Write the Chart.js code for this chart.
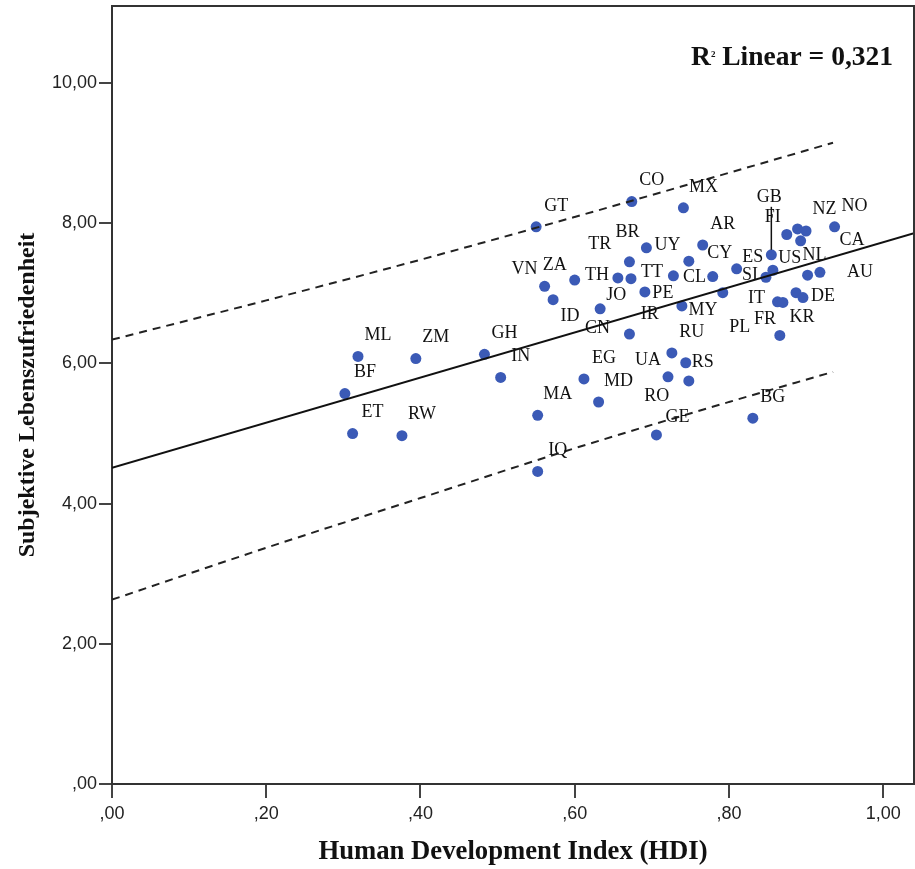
<!DOCTYPE html>
<html>
<head>
<meta charset="utf-8">
<script src="https://cdn.jsdelivr.net/npm/chart.js@4.4.1/dist/chart.umd.min.js"></script>
<style>
    html, body { margin: 0; padding: 0; background: #ffffff; }
    #wrap { width: 915px; height: 869px; }
</style>
</head>
<body>
<div id="wrap"><canvas id="hdiChart" width="915" height="869"></canvas></div>
<script>
// Länder (null = Punkt ohne Beschriftung)
const countries = [
    "BF", "ML", "ZM", "ET", "RW", "GH", "IN", "MA", "IQ", "EG", "MD",
    "GT", "VN", "ID", "ZA", "JO", "CN", "PE", "MY", "IR", "RU", "RS",
    "UA", "RO", "GE", "BG", "CO", "MX", "UY", "BR", "AR", "CY", "TR",
    "TH", "TT", "CL", "ES", "GB", "FI", "NZ", "CA", null, "NO", "US",
    "SI", "NL", "AU", "IT", "FR", "DE", "KR", "PL"
];
const hdi = [
    0.302, 0.319, 0.394, 0.312, 0.376, 0.483, 0.504, 0.552, 0.552, 0.612, 0.631,
    0.550, 0.561, 0.572, 0.600, 0.633, 0.671, 0.691, 0.739, 0.792, 0.726, 0.744,
    0.721, 0.748, 0.706, 0.831, 0.674, 0.741, 0.693, 0.671, 0.766, 0.748, 0.779,
    0.656, 0.673, 0.728, 0.810, 0.855, 0.875, 0.889, 0.900, 0.893, 0.937, 0.857,
    0.848, 0.902, 0.918, 0.863, 0.870, 0.887, 0.896, 0.866
];
const lifeSat = [
    5.57, 6.10, 6.07, 5.00, 4.97, 6.13, 5.80, 5.26, 4.46, 5.78, 5.45,
    7.95, 7.10, 6.91, 7.19, 6.78, 6.42, 7.02, 6.82, 7.01, 6.15, 6.01,
    5.81, 5.75, 4.98, 5.22, 8.31, 8.22, 7.65, 7.45, 7.69, 7.46, 7.24,
    7.22, 7.21, 7.25, 7.35, 7.55, 7.84, 7.92, 7.89, 7.75, 7.95, 7.33,
    7.23, 7.26, 7.30, 6.88, 6.87, 7.01, 6.94, 6.40
];

// Regressionsgerade und 95%-Vorhersageintervall
const fitX = [0, 1.04];
const fitY = [4.51, 7.86];
const bandX = [0, 0.2, 0.4, 0.6, 0.8, 0.935];
const bandUpper = [6.34, 6.90, 7.48, 8.09, 8.72, 9.15];
const bandLower = [2.63, 3.37, 4.08, 4.79, 5.45, 5.88];

const xTicks = [0, 0.2, 0.4, 0.6, 0.8, 1.0];
const yTicks = [0, 2, 4, 6, 8, 10];
const r2Linear = 0.321;

// Lage der Beschriftungen relativ zum Punkt (px), Standard oben rechts
const labelOffset = {
    VN: [-20, -17], ID: [17, 17], ZA: [-20, -15], TH: [-21, -3], TT: [21, -6],
    CL: [21, 1], JO: [16, -14], CN: [-32, -6], PE: [18, 1], MY: [21, 4],
    IR: [-73, 22], RS: [17, 0], UA: [-20, -17], RO: [-32, 15], GE: [21, -18],
    UY: [21, -3], BR: [-2, -30], CY: [31, -8], TR: [-113, -32], ES: [16, -12],
    GB: [-2, -58], FI: [-14, -17], NZ: [27, -20], CA: [46, 9], US: [17, -12],
    SI: [-16, -2], NL: [7, -20], AU: [40, 0], IT: [-21, -4], FR: [-18, 17],
    DE: [27, 4], KR: [-1, 20], PL: [-40, -8]
};
const leaderLines = ["GB"];

function formatTick(v) {
    let s = v.toFixed(2).replace(".", ",");
    if (s.startsWith("0,")) s = s.substring(1);
    return s;
}

const toXY = (xs, ys) => xs.map((x, i) => ({ x: x, y: ys[i] }));

const pointLabels = {
    id: "pointLabels",
    afterDatasetsDraw(chart) {
        const ctx = chart.ctx;
        const meta = chart.getDatasetMeta(3);
        ctx.save();
        ctx.font = "18px 'Liberation Serif'";
        ctx.fillStyle = "#111111";
        ctx.textAlign = "center";
        ctx.textBaseline = "middle";
        meta.data.forEach((pt, i) => {
            const name = countries[i];
            if (!name) return;
            const off = labelOffset[name] || [20, -21];
            if (leaderLines.includes(name)) {
                ctx.strokeStyle = "#111111";
                ctx.lineWidth = 1.5;
                ctx.beginPath();
                ctx.moveTo(pt.x, pt.y + off[1] + 10);
                ctx.lineTo(pt.x, pt.y - 5);
                ctx.stroke();
            }
            ctx.fillText(name, pt.x + off[0], pt.y + off[1]);
        });
        ctx.restore();
    }
};

const frameAndR2 = {
    id: "frameAndR2",
    afterDraw(chart) {
        const { ctx, chartArea } = chart;
        ctx.save();
        ctx.strokeStyle = "#333333";
        ctx.lineWidth = 2;
        ctx.beginPath();
        ctx.moveTo(chartArea.left, chartArea.top);
        ctx.lineTo(chartArea.right, chartArea.top);
        ctx.lineTo(chartArea.right, chartArea.bottom);
        ctx.stroke();

        // R² Linear = 0,321
        const rest = " Linear = " + r2Linear.toFixed(3).replace(".", ",");
        ctx.fillStyle = "#111111";
        ctx.textBaseline = "alphabetic";
        ctx.textAlign = "left";
        ctx.font = "bold 27.5px 'Liberation Serif'";
        const wR = ctx.measureText("R").width;
        const wRest = ctx.measureText(rest).width;
        ctx.font = "bold 9px 'Liberation Serif'";
        const w2 = ctx.measureText("2").width;
        const xStart = chartArea.right - 21 - (wR + w2 + wRest);
        const base = chartArea.top + 59;
        ctx.font = "bold 27.5px 'Liberation Serif'";
        ctx.fillText("R", xStart, base);
        ctx.font = "bold 9px 'Liberation Serif'";
        ctx.fillText("2", xStart + wR, base - 8);
        ctx.font = "bold 27.5px 'Liberation Serif'";
        ctx.fillText(rest, xStart + wR + w2, base);
        ctx.restore();
    }
};

const ctx = document.getElementById("hdiChart").getContext("2d");
new Chart(ctx, {
    type: "scatter",
    data: {
        datasets: [
            {
                label: "Linear",
                data: toXY(fitX, fitY),
                showLine: true,
                borderColor: "#111111",
                borderWidth: 2,
                pointRadius: 0,
                fill: false
            },
            {
                label: "Obere Grenze",
                data: toXY(bandX, bandUpper),
                showLine: true,
                borderColor: "#222222",
                borderWidth: 2,
                borderDash: [8, 6],
                cubicInterpolationMode: "monotone",
                pointRadius: 0,
                fill: false
            },
            {
                label: "Untere Grenze",
                data: toXY(bandX, bandLower),
                showLine: true,
                borderColor: "#222222",
                borderWidth: 2,
                borderDash: [8, 6],
                cubicInterpolationMode: "monotone",
                pointRadius: 0,
                fill: false
            },
            {
                label: "Länder",
                data: toXY(hdi, lifeSat),
                backgroundColor: "#3b5ab6",
                borderColor: "#3b5ab6",
                borderWidth: 0,
                pointRadius: 5.5
            }
        ]
    },
    options: {
        responsive: false,
        animation: false,
        layout: { autoPadding: false, padding: { top: 6, right: 1, left: 0, bottom: 0 } },
        plugins: {
            legend: { display: false },
            tooltip: { enabled: false }
        },
        scales: {
            x: {
                type: "linear",
                min: 0,
                max: 1.04,
                afterFit: s => { s.height = 85; s.paddingLeft = 0; s.paddingRight = 0; },
                afterBuildTicks: s => { s.ticks = xTicks.map(v => ({ value: v })); },
                border: { display: true, color: "#333333", width: 2 },
                grid: { drawOnChartArea: false, drawTicks: true, tickLength: 14, color: "#444444", lineWidth: 2 },
                ticks: {
                    padding: 5,
                    color: "#222222",
                    font: { family: "'Liberation Sans'", size: 18 },
                    maxRotation: 0,
                    callback: v => formatTick(v)
                },
                title: {
                    display: true,
                    text: "Human Development Index (HDI)",
                    color: "#111111",
                    font: { family: "'Liberation Serif'", size: 26.7, weight: "bold", lineHeight: 1.2 },
                    padding: { top: 0, bottom: 1 }
                }
            },
            y: {
                type: "linear",
                min: 0,
                max: 11.1,
                afterFit: s => { s.width = 112; s.paddingTop = 0; s.paddingBottom = 0; },
                afterBuildTicks: s => { s.ticks = yTicks.map(v => ({ value: v })); },
                border: { display: true, color: "#333333", width: 2 },
                grid: { drawOnChartArea: false, drawTicks: true, tickLength: 13, color: "#444444", lineWidth: 2 },
                ticks: {
                    padding: 2,
                    color: "#222222",
                    font: { family: "'Liberation Sans'", size: 18 },
                    callback: v => formatTick(v)
                },
                title: {
                    display: true,
                    text: "Subjektive Lebenszufriedenheit",
                    color: "#111111",
                    font: { family: "'Liberation Serif'", size: 24, weight: "bold", lineHeight: 1.2 },
                    padding: { top: 13, bottom: 0 }
                }
            }
        }
    },
    plugins: [pointLabels, frameAndR2]
});
</script>
</body>
</html>
